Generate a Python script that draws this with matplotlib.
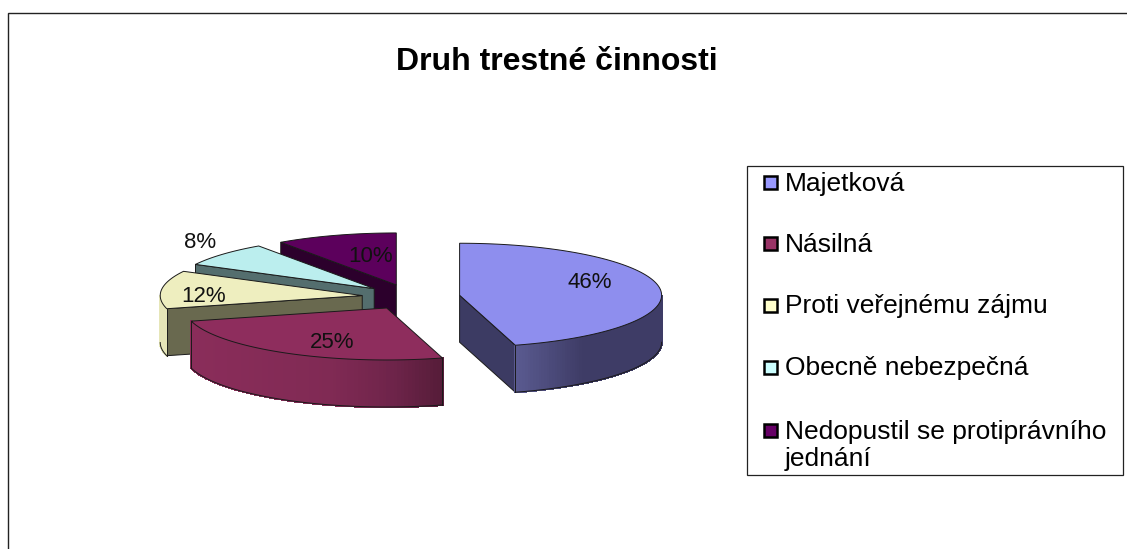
import numpy as np
import matplotlib
matplotlib.use("Agg")
import matplotlib.pyplot as plt
from matplotlib.patches import Polygon, Rectangle

plt.rcParams['font.family'] = ['Liberation Sans', 'DejaVu Sans']

# --- data ---
title = "Druh trestné činnosti"
categories = ["Majetková", "Násilná", "Proti veřejnému zájmu", "Obecně nebezpečná",
              "Nedopustil se protiprávního\njednání"]
values = [45.6, 25.4, 11.8, 7.6, 9.7]
value_labels = ["46%", "25%", "12%", "8%", "10%"]

# --- style ---
legend_colors = ["#9999FF", "#993366", "#FFFFCC", "#CCFFFF", "#660066"]
top_colors = ["#8E8EEE", "#8E2D5D", "#EEEEBF", "#BBEEEE", "#5C005C"]
radial_colors = ["#3C3B63", "#5A1D3B", "#69694F", "#546E6E", "#2C002C"]
rim_stops = [[(0.0, "#5A5A90"), (0.45, "#3E3C66"), (1.0, "#3E3C66")],
             [(0.0, "#8A2D5A"), (0.55, "#802A54"), (0.8, "#6E244A"), (1.0, "#551C38")],
             [(0.0, "#E6E6B8"), (1.0, "#E6E6B8")],
             [(0.0, "#546E6E"), (1.0, "#546E6E")],
             [(0.0, "#2C002C"), (1.0, "#2C002C")]]
label_pos = [(590, 282), (332, 342), (204, 296), (200, 242), (371, 257)]
label_colors = ["#111111"] * 5
draw_order = [4, 3, 2, 0, 1]

CX, CY = 411, 297      # pie centre
RX, RY = 202, 52       # ellipse radii
EXPLODE = 0.243        # share of radius
DEPTH = 47

W, H = 1127, 549
fig = plt.figure(figsize=(W / 100, H / 100), dpi=100, facecolor="white")
ax = fig.add_axes([0, 0, 1, 1])
ax.set_xlim(0, W)
ax.set_ylim(H, 0)
ax.axis("off")


def pt(cx, cy, th):
    return cx + RX * np.sin(th), cy - RY * np.cos(th)


def grad(stops, t):
    xs = [s[0] for s in stops]
    rgb = np.array([matplotlib.colors.to_rgb(s[1]) for s in stops])
    return tuple(np.interp(t, xs, rgb[:, k]) for k in range(3))


fracs = np.array(values, float) / sum(values)
edges = np.concatenate([[0], np.cumsum(fracs)]) * 2 * np.pi
EC = "#1a1a1a"
LW = 0.7

for i in draw_order:
    a0, a1 = edges[i], edges[i + 1]
    mid = (a0 + a1) / 2
    cx = CX + EXPLODE * RX * np.sin(mid)
    cy = CY - EXPLODE * RY * np.cos(mid)
    z = draw_order.index(i) * 3

    # radial faces turned toward the viewer
    for th, visible in ((a0, np.sin(a0) < -1e-6), (a1, np.sin(a1) > 1e-6)):
        if visible:
            x, y = pt(cx, cy, th)
            ax.add_patch(Polygon([(cx, cy), (x, y), (x, y + DEPTH), (cx, cy + DEPTH)],
                                 closed=True, facecolor=radial_colors[i],
                                 edgecolor=EC, linewidth=LW, zorder=z + 1))

    # outer rim on the front half of the ellipse
    lo, hi = max(a0, np.pi / 2), min(a1, 3 * np.pi / 2)
    if hi > lo:
        ths = np.linspace(lo, hi, 90)
        xs, ys = pt(cx, cy, ths)
        xmin, xmax = xs.min(), xs.max()
        for k in range(len(ths) - 1):
            t = ((xs[k] + xs[k + 1]) / 2 - xmin) / (xmax - xmin)
            col = grad(rim_stops[i], t)
            ax.add_patch(Polygon([(xs[k], ys[k]), (xs[k + 1], ys[k + 1]),
                                  (xs[k + 1], ys[k + 1] + DEPTH), (xs[k], ys[k] + DEPTH)],
                                 closed=True, facecolor=col, edgecolor=col, linewidth=1.0,
                                 antialiased=False, zorder=z + 1))
        ax.plot(xs, ys + DEPTH, color=EC, lw=LW, zorder=z + 2)
        # vertical edges only where the rim ends at a slice corner
        if lo == a0:
            ax.plot([xs[0], xs[0]], [ys[0], ys[0] + DEPTH], color=EC, lw=LW, zorder=z + 2)
        if hi == a1:
            ax.plot([xs[-1], xs[-1]], [ys[-1], ys[-1] + DEPTH], color=EC, lw=LW, zorder=z + 2)

    # top surface
    ths = np.linspace(a0, a1, 120)
    xs, ys = pt(cx, cy, ths)
    verts = [(cx, cy)] + list(zip(xs, ys))
    ax.add_patch(Polygon(verts, closed=True, facecolor=top_colors[i], edgecolor=EC,
                         linewidth=LW, zorder=z + 3))

# value labels
for (x, y), s, c in zip(label_pos, value_labels, label_colors):
    ax.text(x, y, s, ha="center", va="center", fontsize=16, color=c, zorder=40)

# title
ax.text(556.5, 61.5, title, ha="center", va="center", fontsize=23, fontweight="bold",
        color="black", zorder=40)

# legend
ax.add_patch(Rectangle((747, 166), 376, 309, facecolor="white", edgecolor="#222222",
                       linewidth=0.9, zorder=30))
legend_y = [182, 243, 305, 367, 430]
for name, col, y in zip(categories, legend_colors, legend_y):
    ax.add_patch(Rectangle((764, y - 6.5), 13, 13, facecolor=col, edgecolor="black",
                           linewidth=1.8, zorder=31))
    ax.text(785, y - 10.5, name, ha="left", va="top", fontsize=19, color="black",
            linespacing=1.2, zorder=31)

# outer chart frame, cut by the picture's right and bottom edges
ax.plot([7.5, 7.5, W], [H, 12.5, 12.5], color="#222222", lw=1.0, zorder=1,
        solid_joinstyle="miter")

fig.savefig("out.png", dpi=100, facecolor="white")
